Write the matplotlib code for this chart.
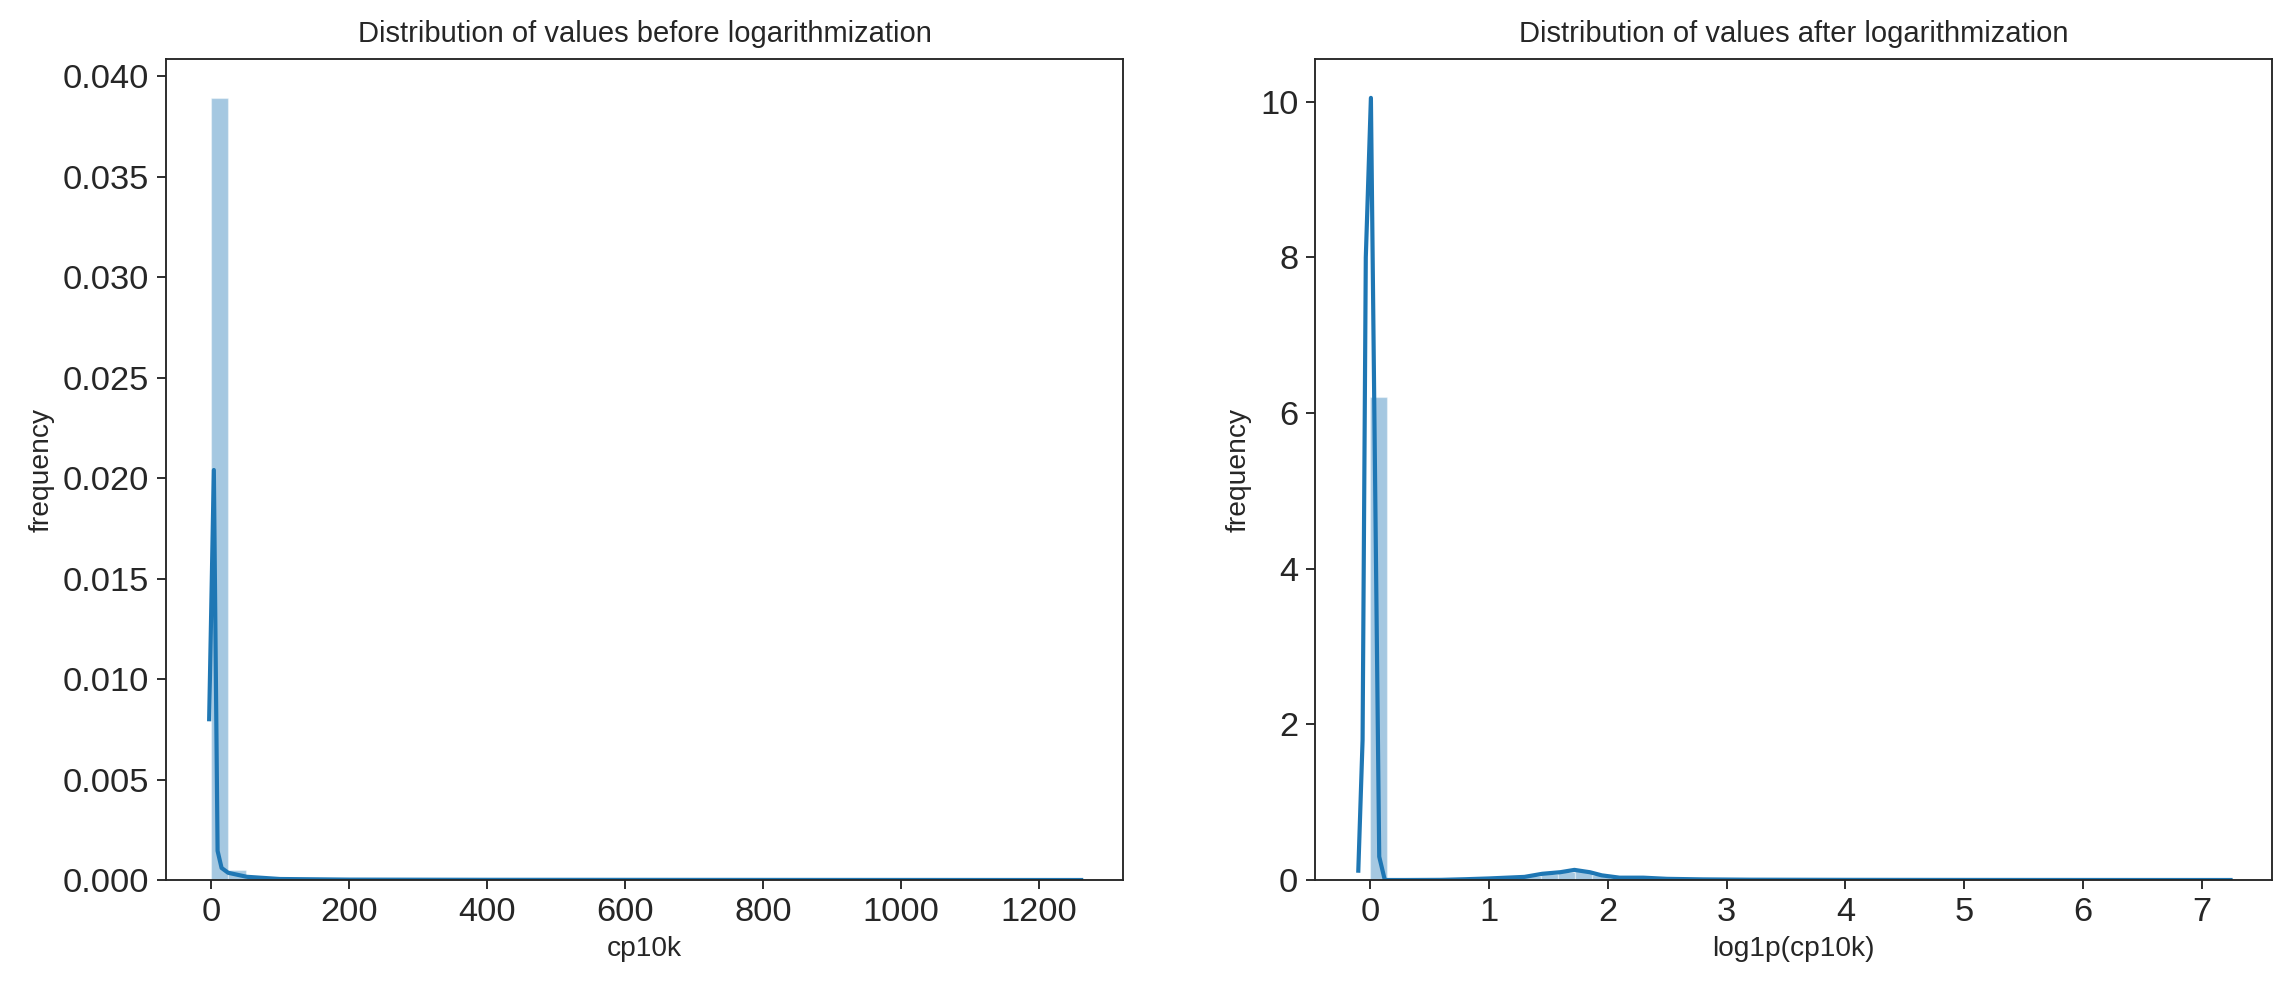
import numpy as np
import matplotlib
matplotlib.use("Agg")
import matplotlib.pyplot as plt

# ---- data ----
# left panel: raw cp10k values
raw_min, raw_max = 0.0, 1257.0
raw_hist = [0.0389, 0.00050, 0.00016, 0.00007, 0.00004, 0.00003, 0.00002, 0.000015,
            0.00001, 0.00001, 0.000008, 0.000006, 0.000005, 0.000004, 0.000004,
            0.000003, 0.000003, 0.000002, 0.000002, 0.000002, 0.000002, 0.000001,
            0.000001, 0.000001, 0.000001, 0.000001, 0.000001, 0.000001, 0.000001,
            0.000001, 0.000001, 0.000001, 0.000001, 0.000001, 0.000001, 0.000001,
            0.000001, 0.000001, 0.0, 0.0, 0.0, 0.0, 0.0, 0.0, 0.0, 0.0, 0.0, 0.0,
            0.0, 0.000001]
raw_kde_x = [-2.5, 4.3, 9.7, 15.5, 25.0, 52.0, 100.0, 200.0, 400.0, 800.0, 1261.0]
raw_kde_y = [0.0080, 0.0204, 0.00145, 0.0006, 0.00036, 0.00016, 0.00005, 0.00002,
             0.00001, 0.000005, 0.0]

# right panel: log1p(cp10k)
log_min, log_max = 0.0, 7.2
log_hist = [6.2, 0.0, 0.0, 0.0, 0.0, 0.005, 0.01, 0.02, 0.03, 0.05, 0.08, 0.10,
            0.12, 0.06, 0.03, 0.03, 0.02, 0.01, 0.008, 0.005, 0.004, 0.003, 0.002,
            0.002, 0.001, 0.001, 0.001, 0.001, 0.001, 0.001, 0.001, 0.0, 0.0, 0.0,
            0.0, 0.0, 0.0, 0.0, 0.0, 0.0, 0.0, 0.0, 0.0, 0.0, 0.0, 0.0, 0.0, 0.0,
            0.0, 0.001]
log_kde_x = [-0.098, -0.062, -0.035, 0.008, 0.078, 0.125, 0.3, 0.6, 0.8, 1.0, 1.15,
             1.3, 1.45, 1.6, 1.72, 1.85, 1.95, 2.1, 2.3, 2.5, 2.8, 3.2, 4.0, 5.0,
             6.0, 7.24]
log_kde_y = [0.12, 1.8, 8.0, 10.05, 0.3, 0.0, 0.0, 0.002, 0.01, 0.02, 0.03, 0.04,
             0.08, 0.10, 0.13, 0.10, 0.06, 0.03, 0.03, 0.015, 0.008, 0.004, 0.002,
             0.001, 0.0005, 0.0]

titles = ["Distribution of values before logarithmization",
          "Distribution of values after logarithmization"]
xlabels = ["cp10k", "log1p(cp10k)"]

plt.rcParams["font.family"] = ["Liberation Sans", "DejaVu Sans"]
dark = "#262626"
plt.rcParams["text.color"] = dark
plt.rcParams["axes.labelcolor"] = dark
plt.rcParams["xtick.color"] = dark
plt.rcParams["ytick.color"] = dark
plt.rcParams["axes.edgecolor"] = dark

fig = plt.figure(figsize=(2290 / 150, 991 / 150), dpi=150)
ax1 = fig.add_axes([0.0725, 0.112, 0.418, 0.8285])
ax2 = fig.add_axes([0.5742, 0.112, 0.418, 0.8285])

panels = [
    (ax1, raw_min, raw_max, raw_hist, raw_kde_x, raw_kde_y),
    (ax2, log_min, log_max, log_hist, log_kde_x, log_kde_y),
]

for i, (ax, lo, hi, heights, kx, ky) in enumerate(panels):
    edges = np.linspace(lo, hi, len(heights) + 1)
    ax.bar(edges[:-1], heights, width=np.diff(edges), align="edge",
           color="#1f77b4", alpha=0.4, edgecolor="white", linewidth=0.6)
    ax.plot(kx, ky, color="#1f77b4", lw=2.0)
    ax.set_title(titles[i], fontsize=14, pad=8)
    ax.set_xlabel(xlabels[i], fontsize=13.5)
    ax.set_ylabel("frequency", fontsize=13.5)
    ax.tick_params(labelsize=16.5, length=4.5, width=0.9)
    for sp in ax.spines.values():
        sp.set_linewidth(0.9)

ax1.set_xlim(-65, 1322)
ax1.set_ylim(0, 0.04085)
ax1.set_xticks([0, 200, 400, 600, 800, 1000, 1200])
ax1.set_yticks(np.arange(0, 0.0401, 0.005))
ax1.yaxis.set_major_formatter(matplotlib.ticker.FormatStrFormatter("%.3f"))

ax2.set_xlim(-0.463, 7.59)
ax2.set_ylim(0, 10.55)
ax2.set_xticks(range(0, 8))
ax2.set_yticks([0, 2, 4, 6, 8, 10])

fig.savefig("out.png", dpi=150)
